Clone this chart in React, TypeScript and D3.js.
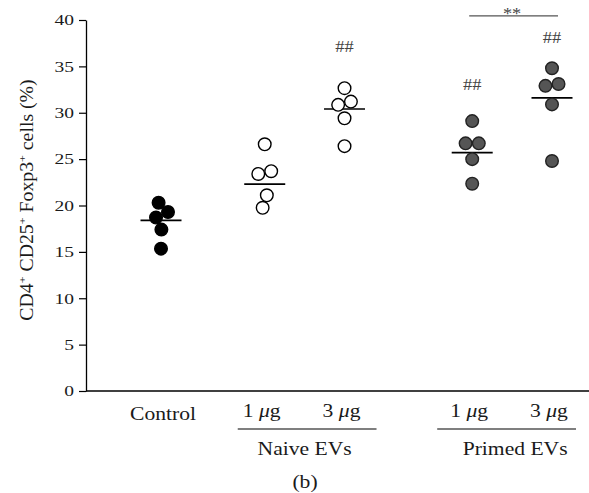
import React, { useEffect, useRef } from 'react'
import * as d3 from 'd3'

// values (% of CD4+ CD25+ Foxp3+ cells)
const groups = ['Control', 'Naive 1', 'Naive 3', 'Primed 1', 'Primed 3']
const doseLabels = ['', '1 ', '3 ', '1 ', '3 ']
const control = [20.3, 19.3, 18.7, 17.4, 15.35]
const naive1 = [26.6, 23.7, 23.4, 21.1, 19.75]
const naive3 = [32.65, 31.2, 30.85, 29.4, 26.4]
const primed1 = [29.1, 26.7, 26.7, 25.0, 22.35]
const primed3 = [34.8, 33.1, 32.9, 30.9, 24.8]
const means = [18.4, 22.3, 30.4, 25.7, 31.6]
const marks = ['', '', '##', '##', '##']
const markLevels = [0, 0, 36.6, 32.5, 37.5]
const yTicks = [0, 5, 10, 15, 20, 25, 30, 35, 40]

const series = [control, naive1, naive3, primed1, primed3]
const fills = ['#000000', '#ffffff', '#ffffff', '#555555', '#555555']
const strokes = ['#000000', '#000000', '#000000', '#222222', '#222222']
const slots = [0, 1.3, 2.3, 3.9, 4.9]

const W = 589, H = 493
const FONT = '"Liberation Serif", "Times New Roman", serif'
const SX = 1.2

const y = d3.scaleLinear().domain([0, 40]).range([391, 20])
const x = d3.scaleLinear().domain([0, 4.9]).range([161, 552])

function swarm(values: number[]) {
  const nodes = values.map((v, i) => ({ v, x: (i % 2 ? 1 : -1) * 0.5, fy: y(v), y: y(v) } as any))
  const sim = d3.forceSimulation(nodes)
    .force('x', d3.forceX(0).strength(0.15))
    .force('c', d3.forceCollide(6.6))
    .stop()
  for (let i = 0; i < 300; i++) sim.tick()
  return nodes
}

function Txt({ x, y, children, size = 18, sx = SX, anchor = 'middle', fill = '#1a1a1a', rotate = 0 }: any) {
  return (
    <text transform={`translate(${x},${y}) rotate(${rotate}) scale(${sx},1)`}
      textAnchor={anchor} fontFamily={FONT} fontSize={size} fill={fill}>{children}</text>
  )
}

export default function App() {
  const axisRef = useRef<SVGGElement>(null)

  useEffect(() => {
    const g = d3.select(axisRef.current)
    g.call(d3.axisLeft(y).tickValues(yTicks).tickSize(7).tickSizeOuter(0).tickPadding(5) as any)
    g.select('.domain').attr('stroke', '#000').attr('stroke-width', 1.3)
    g.selectAll('.tick line').attr('stroke', '#000').attr('stroke-width', 1.2)
    g.selectAll('.tick text')
      .attr('font-family', FONT)
      .attr('font-size', 15)
      .attr('fill', '#1a1a1a')
      .attr('x', -12 / 1.3)
      .attr('transform', 'scale(1.3,1)')
  }, [])

  const swarms = series.map(swarm)

  return (
    <svg width={W} height={H} style={{ position: 'absolute', left: 0, top: 0 }}>
      <rect width={W} height={H} fill="#fff" />
      <g ref={axisRef} transform="translate(86,0)" />
      <line x1={86} x2={589} y1={391} y2={391} stroke="#000" strokeWidth={1.3} />

      <Txt x={33} y={200} rotate={-90} sx={1.1}>
        CD4<tspan fontSize={11} dy={-7}>+</tspan>
        <tspan dy={7}> CD25</tspan><tspan fontSize={11} dy={-7}>+</tspan>
        <tspan dy={7}> Foxp3</tspan><tspan fontSize={11} dy={-7}>+</tspan>
        <tspan dy={7}> cells (%)</tspan>
      </Txt>

      {swarms.map((nodes, gi) => (
        <g key={groups[gi]}>
          <line x1={x(slots[gi]) - 20.5} x2={x(slots[gi]) + 20.5} y1={y(means[gi])} y2={y(means[gi])}
            stroke="#000" strokeWidth={1.6} />
          {nodes.map((n: any, i: number) => (
            <circle key={i} cx={x(slots[gi]) + n.x} cy={n.fy} r={6.3}
              fill={fills[gi]} stroke={strokes[gi]} strokeWidth={1.4} />
          ))}
          {marks[gi] && (
            <Txt x={x(slots[gi])} y={y(markLevels[gi])} size={16} sx={1.15} fill="#444">{marks[gi]}</Txt>
          )}
        </g>
      ))}

      <line x1={x(slots[3]) - 3} x2={x(slots[4]) + 6} y1={y(40.45)} y2={y(40.45)} stroke="#555" strokeWidth={1.3} />
      <Txt x={(x(slots[3]) + x(slots[4])) / 2} y={18.5} size={16} sx={1.15} fill="#444">**</Txt>

      <Txt x={x(slots[0]) + 2} y={420}>Control</Txt>
      {[1, 2, 3, 4].map(i => (
        <Txt key={i} x={x(slots[i]) - 3} y={417}>{doseLabels[i]}<tspan fontStyle="italic">μ</tspan>g</Txt>
      ))}
      <line x1={x(slots[1]) - 27} x2={x(slots[2]) + 32} y1={429} y2={429} stroke="#000" strokeWidth={1.2} />
      <line x1={x(slots[3]) - 35} x2={x(slots[4]) + 24} y1={429} y2={429} stroke="#000" strokeWidth={1.2} />
      <Txt x={(x(slots[1]) + x(slots[2])) / 2} y={455}>Naive EVs</Txt>
      <Txt x={(x(slots[3]) + x(slots[4])) / 2 + 3} y={455}>Primed EVs</Txt>
      <Txt x={305} y={488}>(b)</Txt>
    </svg>
  )
}
